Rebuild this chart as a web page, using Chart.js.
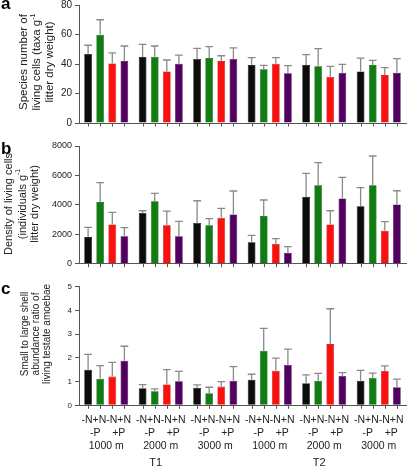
<!DOCTYPE html>
<html>
<head>
<meta charset="utf-8">
<script src="https://cdn.jsdelivr.net/npm/chart.js@4.4.0/dist/chart.umd.min.js"></script>
<style>
html,body{margin:0;padding:0;background:#ffffff;}
#wrap{position:relative;width:409px;height:470px;overflow:hidden;background:#fff;}
canvas{position:absolute;left:0;}
</style>
</head>
<body>
<div id="wrap">
<canvas id="ca" style="top:0px" width="409" height="130"></canvas>
<canvas id="cb" style="top:130px" width="409" height="140"></canvas>
<canvas id="cc" style="top:270px" width="409" height="200"></canvas>
</div>
<script>
// ---------- data ----------
const categories = ['1000 m', '2000 m', '3000 m', '1000 m', '2000 m', '3000 m'];
const treatmentLine1 = '-N+N-N+N';
const treatmentLine2 = ' -P    +P';
const timeLabels = ['T1', 'T2'];
const timeAnchorIndex = [1, 4];

// (a) species number of living cells: means and SD per treatment (-N-P, +N-P, -N+P, +N+P)
const speciesNegNNegP = [46.8, 44.7, 43.4, 39.3, 39.3, 35.0];
const speciesPosNNegP = [59.9, 45.0, 44.0, 36.4, 38.4, 39.3];
const speciesNegNPosP = [40.4, 35.0, 42.0, 40.2, 31.4, 32.5];
const speciesPosNPosP = [42.0, 40.2, 43.4, 33.7, 33.9, 34.1];
const speciesSdNegNNegP = [5.9, 8.6, 7.2, 5.0, 7.0, 9.0];
const speciesSdPosNNegP = [10.1, 7.2, 7.8, 2.7, 12.0, 3.2];
const speciesSdNegNPosP = [7.1, 7.7, 3.6, 4.1, 7.0, 5.0];
const speciesSdPosNPosP = [10.2, 5.8, 7.6, 5.2, 5.9, 9.5];

// (b) density of living cells
const densityNegNNegP = [1810, 3450, 2770, 1450, 4530, 3900];
const densityPosNNegP = [4190, 4240, 2610, 3240, 5330, 5330];
const densityNegNPosP = [2670, 2610, 3130, 1340, 2670, 2240];
const densityPosNPosP = [1860, 1860, 3350, 750, 4440, 4030];
const densitySdNegNNegP = [660, 150, 1510, 480, 1610, 1270];
const densitySdPosNNegP = [1320, 540, 450, 1090, 1540, 1990];
const densitySdNegNPosP = [820, 970, 630, 360, 930, 620];
const densitySdPosNPosP = [590, 1020, 1590, 410, 1430, 930];

// (c) small to large shell abundance ratio
const ratioNegNNegP = [1.50, 0.72, 0.74, 1.08, 0.93, 1.04];
const ratioPosNNegP = [1.12, 0.59, 0.51, 2.30, 1.04, 1.15];
const ratioNegNPosP = [1.21, 0.88, 0.79, 1.46, 2.58, 1.45];
const ratioPosNPosP = [1.88, 1.01, 1.03, 1.70, 1.24, 0.76];
const ratioSdNegNNegP = [0.65, 0.15, 0.12, 0.23, 0.35, 0.43];
const ratioSdPosNNegP = [0.55, 0.10, 0.25, 0.94, 0.31, 0.21];
const ratioSdNegNPosP = [0.60, 0.62, 0.21, 0.53, 1.49, 0.21];
const ratioSdPosNPosP = [0.61, 0.42, 0.60, 0.67, 0.14, 0.34];

const yTitleA = ['Species number of', 'living cells (taxa g^-1', 'litter dry weight)'];
const yTitleB = ['Density of living cells', '(individuals g^-1', 'litter dry weight)'];
const yTitleC = ['Small to large shell', 'abundance ratio of', 'living testate amoebae'];
const panelLetters = ['a', 'b', 'c'];

// ---------- styles ----------
const FONT = '"Liberation Sans", Arial, Helvetica, sans-serif';
const barColors = ['#0c0c0c', '#0f7d12', '#fb1010', '#520060'];
const barEdges = ['#000000', '#0a5a0a', '#b00000', '#3a0045'];

function drawRotLine(ctx, x, cy, text, size) {
  const parts = text.split('^');
  const segs = [{t: parts[0], sup: false}];
  if (parts.length > 1) segs.push({t: parts[1], sup: true});
  ctx.save();
  ctx.translate(x, cy);
  ctx.rotate(-Math.PI / 2);
  ctx.textBaseline = 'middle';
  ctx.textAlign = 'left';
  ctx.fillStyle = '#222';
  const fonts = segs.map(s => (s.sup ? size * 0.62 : size) + 'px ' + FONT);
  let total = 0;
  const widths = segs.map((s, k) => { ctx.font = fonts[k]; const w = ctx.measureText(s.t).width; total += w; return w; });
  let px = -total / 2;
  segs.forEach((s, k) => { ctx.font = fonts[k]; ctx.fillText(s.t, px, s.sup ? -size * 0.38 : 0); px += widths[k]; });
  ctx.restore();
}

function makePanel(cfg) {
  const datasets = cfg.means.map((m, i) => ({
    data: m,
    backgroundColor: barColors[i],
    borderColor: barEdges[i],
    borderWidth: 0.6,
    categoryPercentage: 0.888,
    barPercentage: 0.64
  }));
  const extras = {
    id: 'panelExtras',
    afterDatasetsDraw(chart) {
      const ctx = chart.ctx, ys = chart.scales.y, area = chart.chartArea;
      ctx.save();
      ctx.strokeStyle = '#8a8a8a';
      ctx.lineWidth = 1.3;
      cfg.sds.forEach((sdArr, i) => {
        chart.getDatasetMeta(i).data.forEach((bar, j) => {
          const top = ys.getPixelForValue(cfg.means[i][j] + sdArr[j]);
          const half = bar.width / 2;
          ctx.beginPath();
          ctx.moveTo(bar.x, bar.y);
          ctx.lineTo(bar.x, top);
          ctx.moveTo(bar.x - half, top);
          ctx.lineTo(bar.x + half, top);
          ctx.stroke();
        });
      });
      ctx.strokeStyle = '#555';
      ctx.lineWidth = 1;
      cfg.means.forEach((m, i) => {
        chart.getDatasetMeta(i).data.forEach(bar => {
          const xx = Math.round(bar.x) + 0.5;
          ctx.beginPath();
          ctx.moveTo(xx, area.bottom);
          ctx.lineTo(xx, area.bottom + 3.5);
          ctx.stroke();
        });
      });
      ctx.restore();
    },
    afterDraw(chart) {
      const ctx = chart.ctx;
      cfg.title.forEach((line, k) => drawRotLine(ctx, cfg.titleX[k], cfg.titleCY, line, cfg.titleSize));
      ctx.save();
      ctx.fillStyle = '#000';
      ctx.font = 'bold 17px ' + FONT;
      ctx.textAlign = 'left';
      ctx.textBaseline = 'alphabetic';
      ctx.fillText(cfg.letter, 1, cfg.letterY);
      if (cfg.showX) {
        const xs = chart.scales.x;
        ctx.fillStyle = '#222';
        ctx.font = '11px ' + FONT;
        ctx.textAlign = 'center';
        ctx.textBaseline = 'middle';
        timeLabels.forEach((t, k) => {
          ctx.fillText(t, xs.getPixelForValue(timeAnchorIndex[k]) - 5, 193.3);
        });
      }
      ctx.restore();
    }
  };
  return new Chart(document.getElementById(cfg.id), {
    type: 'bar',
    data: {
      labels: categories.map(c => [treatmentLine1, treatmentLine2, c]),
      datasets: datasets
    },
    options: {
      responsive: false,
      animation: false,
      devicePixelRatio: 1,
      layout: {padding: {top: cfg.top, right: 3, left: 0, bottom: 0}},
      plugins: {legend: {display: false}, tooltip: {enabled: false}},
      scales: {
        x: {
          offset: true,
          grid: {display: false, drawTicks: false},
          border: {display: true, color: '#555', width: 1},
          ticks: {
            display: cfg.showX,
            autoSkip: false,
            maxRotation: 0,
            minRotation: 0,
            padding: 8,
            color: '#222',
            font: {family: FONT, size: 10.5, lineHeight: 1.267}
          },
          afterFit(s) { s.height = cfg.xHeight; s.paddingLeft = 0; s.paddingRight = 0; s.paddingTop = 0; s.paddingBottom = 0; }
        },
        y: {
          min: 0,
          max: cfg.yMax,
          grid: {display: true, drawOnChartArea: false, drawTicks: true, tickLength: 4, color: '#555'},
          border: {display: true, color: '#555', width: 1},
          ticks: {
            stepSize: cfg.step,
            padding: 3,
            color: '#222',
            font: {family: FONT, size: cfg.tickSize},
            callback: v => String(v)
          },
          afterFit(s) { s.width = 79; s.paddingTop = 0; s.paddingBottom = 0; s.paddingLeft = 0; s.paddingRight = 0; }
        }
      }
    },
    plugins: [extras]
  });
}

makePanel({
  id: 'ca', top: 5, xHeight: 7, yMax: 80, step: 20, tickSize: 10,
  means: [speciesNegNNegP, speciesPosNNegP, speciesNegNPosP, speciesPosNPosP],
  sds: [speciesSdNegNNegP, speciesSdPosNNegP, speciesSdNegNPosP, speciesSdPosNPosP],
  title: yTitleA, titleX: [24, 37, 49.5], titleCY: 62, titleSize: 11.5,
  letter: panelLetters[0], letterY: 9, showX: false
});
makePanel({
  id: 'cb', top: 16, xHeight: 6.3, yMax: 8000, step: 2000, tickSize: 9,
  means: [densityNegNNegP, densityPosNNegP, densityNegNPosP, densityPosNPosP],
  sds: [densitySdNegNNegP, densitySdPosNNegP, densitySdNegNPosP, densitySdPosNPosP],
  title: yTitleB, titleX: [8.5, 22.5, 35], titleCY: 74, titleSize: 11,
  letter: panelLetters[1], letterY: 24, showX: false
});
makePanel({
  id: 'cc', top: 16.7, xHeight: 64.7, yMax: 5, step: 1, tickSize: 8,
  means: [ratioNegNNegP, ratioPosNNegP, ratioNegNPosP, ratioPosNPosP],
  sds: [ratioSdNegNNegP, ratioSdPosNNegP, ratioSdNegNPosP, ratioSdPosNPosP],
  title: yTitleC, titleX: [25, 36, 47], titleCY: 64, titleSize: 10,
  letter: panelLetters[2], letterY: 24, showX: true
});
</script>
</body>
</html>
